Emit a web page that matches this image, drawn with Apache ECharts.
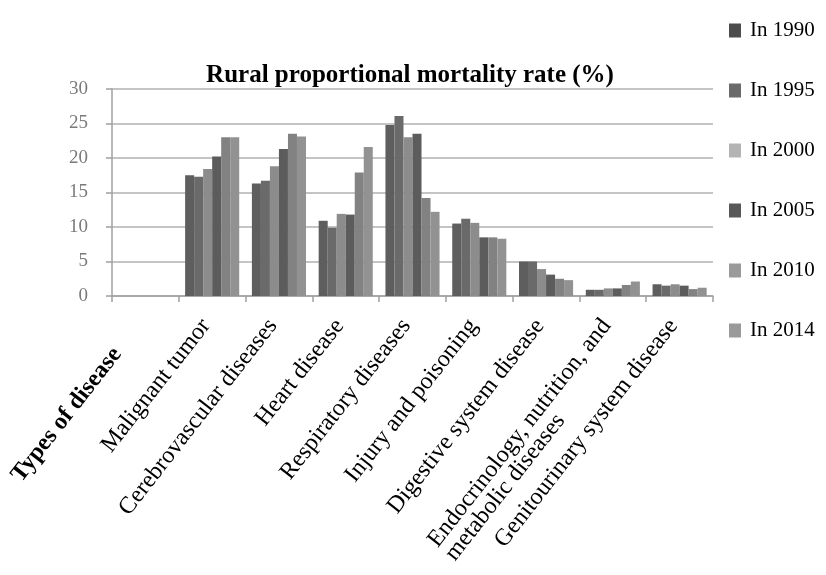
<!DOCTYPE html>
<html>
<head>
<meta charset="utf-8">
<title>Rural proportional mortality rate</title>
<script src="https://cdn.jsdelivr.net/npm/echarts@6/dist/echarts.min.js"></script>
<style>
  html, body { margin: 0; padding: 0; background: #fff; }
  #chart { width: 826px; height: 575px; }
</style>
</head>
<body>
<div id="chart"></div>
<script>
// Disease categories (the first slot only carries the axis caption)
const categories = [
  'Types of disease',
  'Malignant tumor',
  'Cerebrovascular diseases',
  'Heart disease',
  'Respiratory diseases',
  'Injury and poisoning',
  'Digestive system disease',
  'Endocrinology, nutrition, and\nmetabolic diseases',
  'Genitourinary system disease'
];

const years = ['1990', '1995', '2000', '2005', '2010', '2014'];

// Proportional mortality rate (%) per survey year
const rate1990 = [null, 17.5, 16.3, 10.9, 24.8, 10.5, 5.0, 0.9, 1.7];
const rate1995 = [null, 17.3, 16.7, 9.9, 26.1, 11.2, 5.0, 0.9, 1.5];
const rate2000 = [null, 18.4, 18.8, 11.9, 23.0, 10.6, 3.9, 1.1, 1.7];
const rate2005 = [null, 20.2, 21.3, 11.8, 23.5, 8.5, 3.1, 1.1, 1.5];
const rate2010 = [null, 23.0, 23.5, 17.9, 14.2, 8.5, 2.5, 1.6, 1.0];
const rate2014 = [null, 23.0, 23.1, 21.6, 12.2, 8.3, 2.3, 2.1, 1.2];

const yTicks = [0, 5, 10, 15, 20, 25, 30];

const seriesValues = [rate1990, rate1995, rate2000, rate2005, rate2010, rate2014];
const barColors = ['#5e5e5e', '#6a6a6a', '#8c8c8c', '#5c5c5c', '#828282', '#929292'];
const legendColors = ['#4c4c4c', '#6a6a6a', '#b4b4b4', '#585858', '#9a9a9a', '#9a9a9a'];

const serif = '"Liberation Serif", "Times New Roman", serif';

const chart = echarts.init(document.getElementById('chart'), null, { renderer: 'canvas' });

chart.setOption({
  animation: false,
  backgroundColor: '#ffffff',
  title: {
    text: 'Rural proportional mortality rate (%)',
    left: 405,
    textAlign: 'center',
    top: 58,
    textStyle: { fontFamily: serif, fontSize: 25, fontWeight: 'bold', color: '#000' }
  },
  legend: {
    orient: 'vertical',
    left: 724,
    top: 15,
    itemWidth: 12,
    itemHeight: 14,
    itemGap: 39,
    icon: 'rect',
    textStyle: { fontFamily: serif, fontSize: 21, color: '#000', padding: [0, 0, 0, 4] },
    data: years.map((y, i) => ({ name: 'In ' + y, itemStyle: { color: legendColors[i] } }))
  },
  grid: { left: 112, right: 113, top: 89, bottom: 279, containLabel: false },
  xAxis: {
    type: 'category',
    data: categories,
    boundaryGap: true,
    axisLine: { show: true, lineStyle: { color: '#a0a0a0', width: 1.5 } },
    axisTick: { show: true, length: 6, lineStyle: { color: '#a0a0a0', width: 1.5 } },
    axisLabel: {
      interval: 0,
      rotate: 52,
      margin: 18,
      fontFamily: serif,
      fontSize: 24,
      color: '#000',
      formatter: function (v, idx) {
        if (idx === 0) return '{cap|' + v + '}';
        if (v.indexOf('\n') >= 0) {
          return '{m| }\n' + v.split('\n').map(s => '{m|' + s + '}').join('\n');
        }
        return '{n|' + v + '}';
      },
      rich: {
        n: { fontFamily: serif, fontSize: 24, color: '#000', padding: [0, 10, 0, 0] },
        cap: { fontFamily: serif, fontSize: 24, fontWeight: 'bold', color: '#000', padding: [0, 46, 0, 0] },
        m: { fontFamily: serif, fontSize: 24, color: '#000', align: 'left', lineHeight: 22, padding: [0, 10, 0, 0] }
      }
    }
  },
  yAxis: {
    type: 'value',
    min: 0,
    max: 30,
    interval: 5,
    axisLine: { show: true, lineStyle: { color: '#a0a0a0', width: 1.5 } },
    axisTick: { show: true, length: 6, lineStyle: { color: '#a0a0a0', width: 1.5 } },
    axisLabel: {
      margin: 24,
      fontFamily: serif,
      fontSize: 19,
      color: '#7a7a7a',
      formatter: v => (yTicks.indexOf(v) >= 0 ? String(v) : '')
    },
    splitLine: { show: true, lineStyle: { color: '#c4c4c4', width: 2 } }
  },
  series: years.map((y, i) => ({
    name: 'In ' + y,
    type: 'bar',
    data: seriesValues[i],
    barGap: '0%',
    barCategoryGap: '19%',
    itemStyle: { color: barColors[i] }
  }))
});
</script>
</body>
</html>
